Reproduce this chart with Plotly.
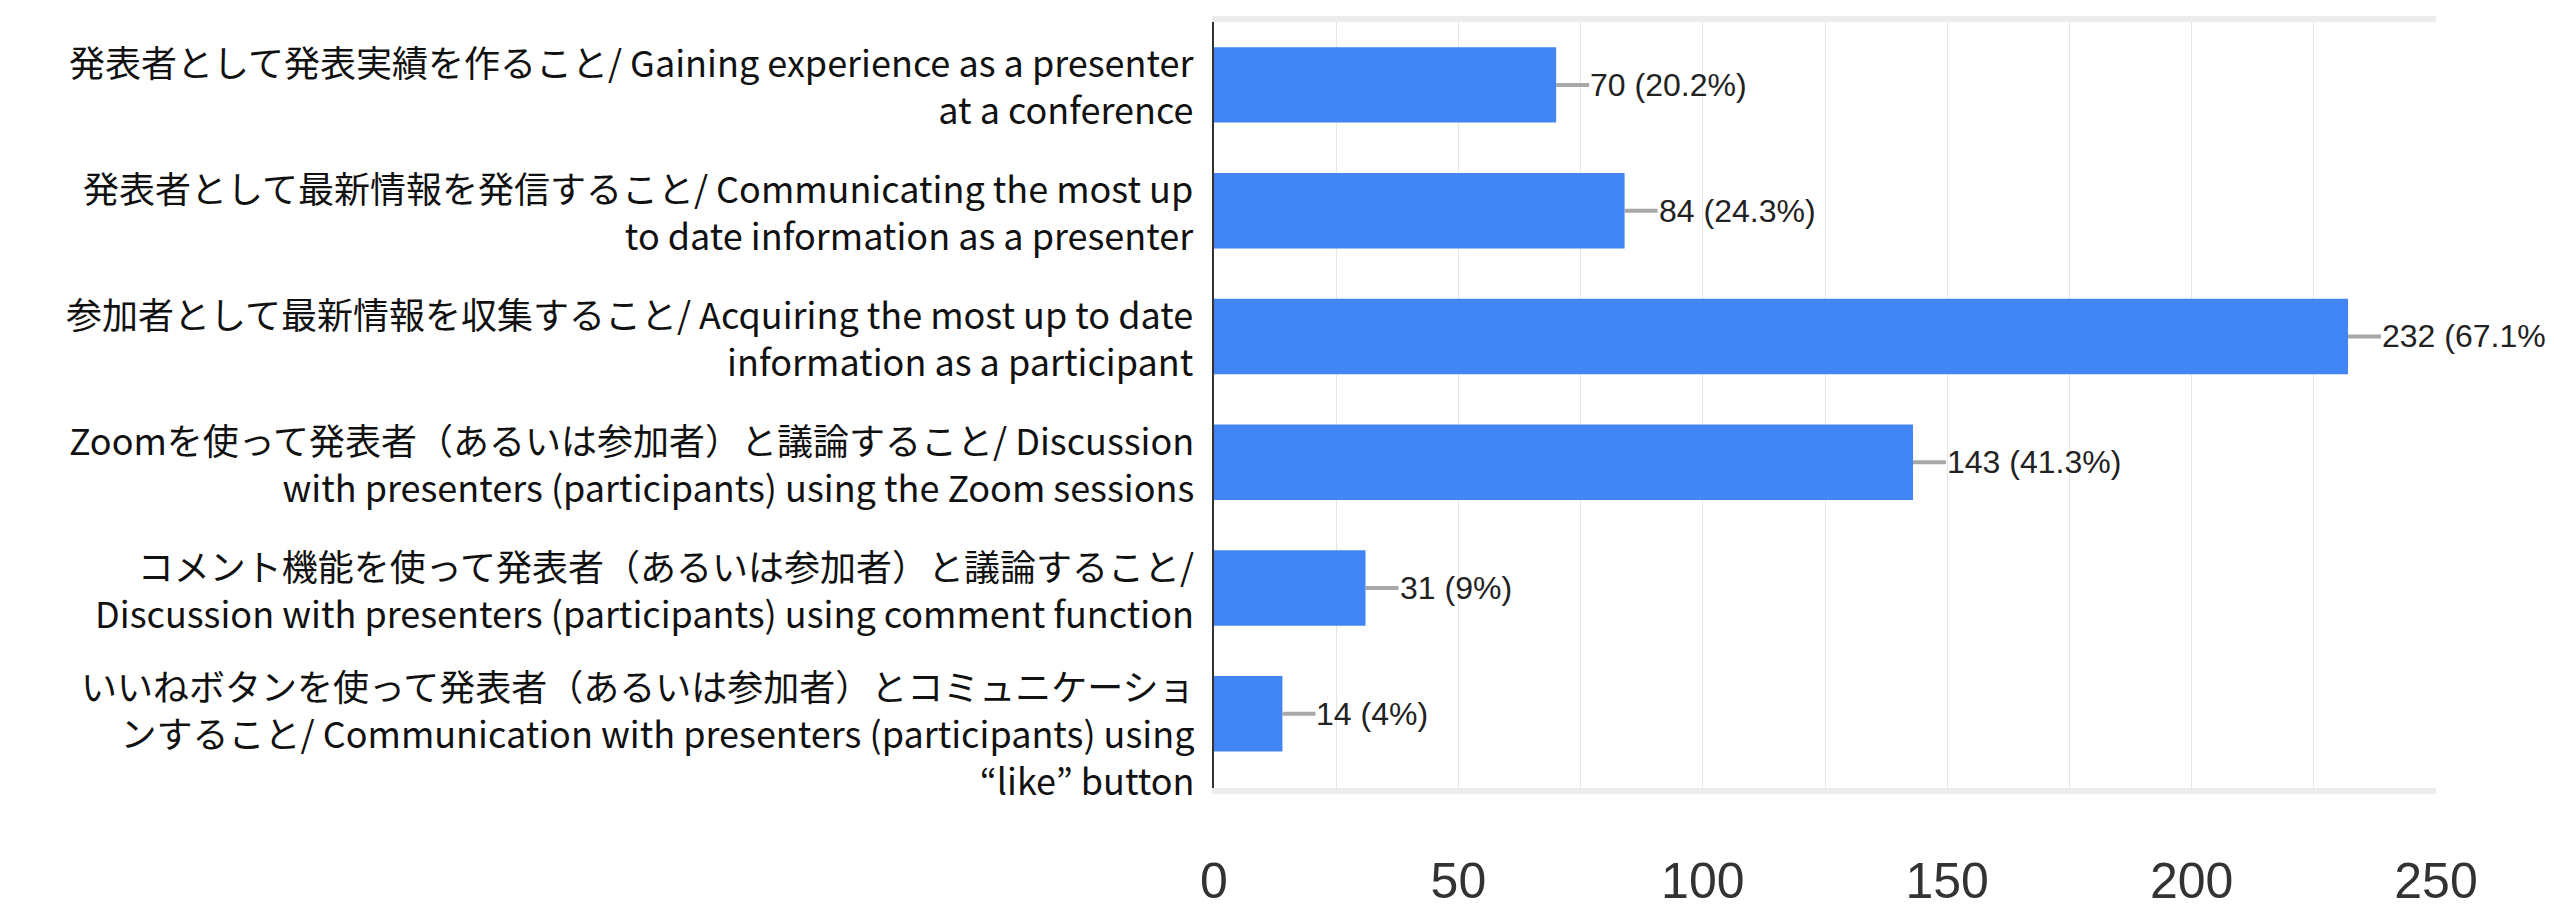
import plotly.graph_objects as go

categories = [
    "発表者として発表実績を作ること/ Gaining experience as a presenter<br>at a conference",
    "発表者として最新情報を発信すること/ Communicating the most up<br>to date information as a presenter",
    "参加者として最新情報を収集すること/ Acquiring the most up to date<br>information as a participant",
    "Zoomを使って発表者（あるいは参加者）と議論すること/ Discussion<br>with presenters (participants) using the Zoom sessions",
    "コメント機能を使って発表者（あるいは参加者）と議論すること/<br>Discussion with presenters (participants) using comment function",
    "いいねボタンを使って発表者（あるいは参加者）とコミュニケーショ<br>ンすること/ Communication with presenters (participants) using<br>“like” button",
]
counts = [70, 84, 232, 143, 31, 14]
percents = ["20.2%", "24.3%", "67.1%", "41.3%", "9%", "4%"]
x_ticks = [0, 50, 100, 150, 200, 250]

fig = go.Figure()
fig.add_trace(go.Bar(
    x=counts, y=categories, orientation="h",
    marker=dict(color="#4285F4", line=dict(width=0)),
    width=0.6, hoverinfo="x+y",
))

# value labels with a short grey leader line
for c, v, p in zip(categories, counts, percents):
    fig.add_annotation(
        x=v, y=c, xref="x", yref="y",
        text=f"{v} ({p})",
        showarrow=True, arrowhead=0, arrowwidth=4, arrowcolor="#a8a8a8",
        ax=33, ay=0, xanchor="left", yanchor="middle",
        standoff=0, startstandoff=0, borderpad=0,
        font=dict(family="Liberation Sans", size=32, color="#222222"),
    )

# category labels, right-aligned left of the axis
for c in categories:
    n_lines = c.count("<br>") + 1
    fig.add_annotation(
        x=0, y=c, xref="paper", yref="y",
        text=c, showarrow=False, align="right",
        xanchor="right", yanchor="middle", xshift=-18,
        yshift=-18 if n_lines > 2 else 0,
        font=dict(family="Noto Sans CJK JP", size=36, color="#111111"),
    )

fig.update_layout(
    width=2554, height=915,
    margin=dict(l=1206, r=126, t=14, b=135, autoexpand=False),
    paper_bgcolor="white", plot_bgcolor="white",
    showlegend=False,
    font=dict(family="Noto Sans CJK JP", color="#111111"),
)
fig.update_xaxes(
    range=[0, 250], tickvals=x_ticks,
    showgrid=True, gridcolor="#e6e6e6", gridwidth=1,
    minor=dict(dtick=25, showgrid=True, gridcolor="#e6e6e6", gridwidth=1),
    showline=True, mirror=True, linecolor="#ececec", linewidth=6,
    zeroline=False, automargin=False,
    tickfont=dict(family="Liberation Sans", size=50, color="#333333"),
    ticklabelstandoff=44,
    ticks="",
)
fig.update_yaxes(
    range=[5.59, -0.5], automargin=False,
    showline=True, linecolor="#333333", linewidth=2,
    showticklabels=False, ticks="",
)

fig.write_html("out.html")
